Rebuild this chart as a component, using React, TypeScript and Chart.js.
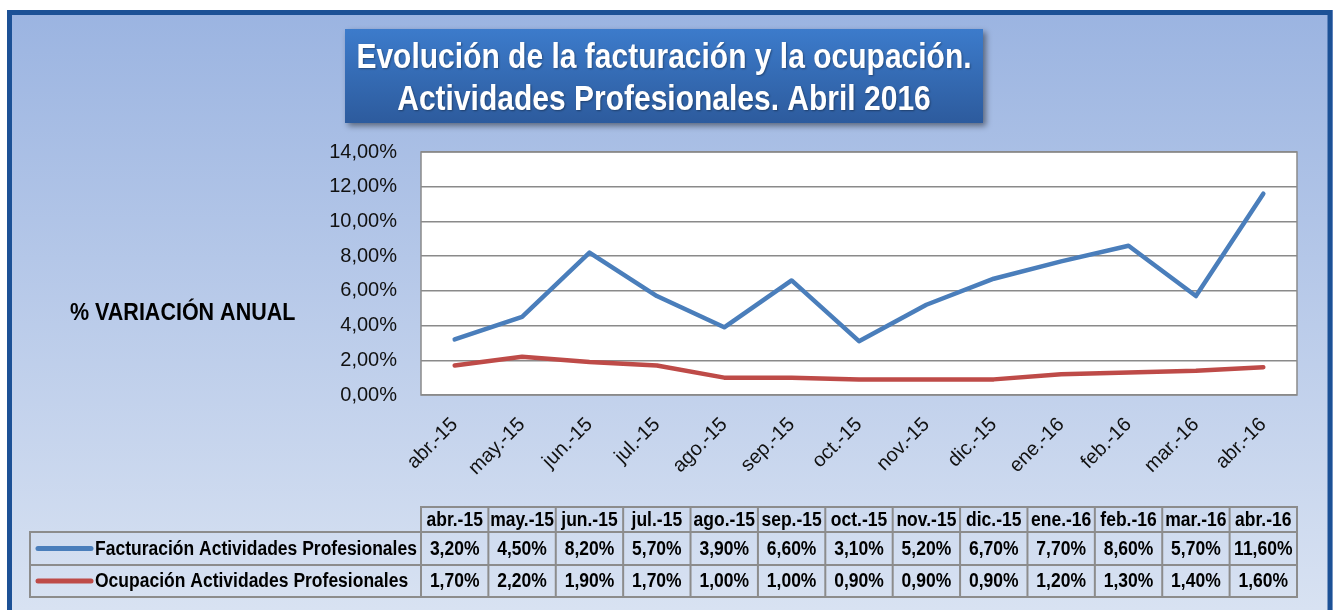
import React, { useEffect, useRef } from 'react';
import { Chart, registerables } from 'chart.js';

Chart.register(...registerables);

const categories = ['abr.-15', 'may.-15', 'jun.-15', 'jul.-15', 'ago.-15', 'sep.-15', 'oct.-15', 'nov.-15', 'dic.-15', 'ene.-16', 'feb.-16', 'mar.-16', 'abr.-16'];
const facturacion = [3.2, 4.5, 8.2, 5.7, 3.9, 6.6, 3.1, 5.2, 6.7, 7.7, 8.6, 5.7, 11.6];
const ocupacion = [1.7, 2.2, 1.9, 1.7, 1.0, 1.0, 0.9, 0.9, 0.9, 1.2, 1.3, 1.4, 1.6];
const seriesNames = ['Facturación Actividades Profesionales', 'Ocupación Actividades Profesionales'];
const seriesColors = ['#4A7EBB', '#BE4B48'];
const yMin = 0;
const yMax = 14;
const yStep = 2;
const titleLines = ['Evolución de la facturación y la ocupación.', 'Actividades Profesionales. Abril 2016'];
const yAxisLabel = '% VARIACIÓN ANUAL';

const FONT = '"Liberation Sans", Arial, sans-serif';
const fmt = (v: number) => v.toFixed(2).replace('.', ',') + '%';

function drawText(ctx: CanvasRenderingContext2D, text: string, x: number, y: number, font: string, color: string, align: CanvasTextAlign, baseline: CanvasTextBaseline, sy = 1.13) {
  ctx.save();
  ctx.translate(x, y);
  ctx.scale(1, sy);
  ctx.font = font;
  ctx.fillStyle = color;
  ctx.textAlign = align;
  ctx.textBaseline = baseline;
  ctx.fillText(text, 0, 0);
  ctx.restore();
}

const framePlugin = {
  id: 'frame',
  beforeDraw(chart: any) {
    const { ctx, width, height, chartArea } = chart;
    ctx.save();
    ctx.fillStyle = '#ffffff';
    ctx.fillRect(0, 0, width, height);
    const g = ctx.createLinearGradient(0, 12, 0, height);
    g.addColorStop(0, '#9BB4E1');
    g.addColorStop(1, '#D8E2F2');
    ctx.fillStyle = g;
    ctx.fillRect(7, 10, width - 7, height - 10);
    ctx.strokeStyle = '#1C5196';
    ctx.lineWidth = 5;
    ctx.strokeRect(9.5, 12.5, 1320.5, height + 30);

    // title box
    const bx = 345, by = 29, bw = 638, bh = 94;
    ctx.save();
    ctx.shadowColor = 'rgba(0,0,0,0.45)';
    ctx.shadowBlur = 6;
    ctx.shadowOffsetX = 3;
    ctx.shadowOffsetY = 3;
    const tg = ctx.createLinearGradient(0, by, 0, by + bh);
    tg.addColorStop(0, '#3C7BCB');
    tg.addColorStop(1, '#2D5B9D');
    ctx.fillStyle = tg;
    ctx.fillRect(bx, by, bw, bh);
    ctx.restore();
    ctx.save();
    ctx.shadowColor = 'rgba(0,0,0,0.35)';
    ctx.shadowBlur = 2;
    ctx.shadowOffsetX = 1;
    ctx.shadowOffsetY = 1;
    drawText(ctx, titleLines[0], bx + bw / 2, 68, 'bold 30px ' + FONT, '#ffffff', 'center', 'alphabetic', 1.15);
    drawText(ctx, titleLines[1], bx + bw / 2, 110, 'bold 30px ' + FONT, '#ffffff', 'center', 'alphabetic', 1.15);
    ctx.restore();

    // side label
    drawText(ctx, yAxisLabel, 70, 313, 'bold 21.5px ' + FONT, '#000000', 'left', 'middle', 1.12);

    // plot area
    ctx.fillStyle = '#ffffff';
    ctx.fillRect(chartArea.left, chartArea.top, chartArea.right - chartArea.left, chartArea.bottom - chartArea.top);
    ctx.restore();
  },
  beforeDatasetsDraw(chart: any) {
    const { ctx, chartArea } = chart;
    ctx.save();
    ctx.strokeStyle = '#8A8A8A';
    ctx.lineWidth = 1.5;
    ctx.strokeRect(chartArea.left, chartArea.top, chartArea.right - chartArea.left, chartArea.bottom - chartArea.top);
    ctx.restore();
  },
  afterDraw(chart: any) {
    const { ctx } = chart;
    const xs = chart.scales.x;
    const step = xs.getPixelForValue(1) - xs.getPixelForValue(0);
    const left = xs.getPixelForValue(0) - step / 2;
    const right = xs.getPixelForValue(categories.length - 1) + step / 2;
    const legendLeft = 30;
    const yH0 = 507, yH1 = 532, yR1 = 565, yR2 = 597;
    ctx.save();
    ctx.strokeStyle = '#8C8C8C';
    ctx.lineWidth = 2;
    // header row
    ctx.strokeRect(left, yH0, right - left, yH1 - yH0);
    // data rows
    ctx.strokeRect(legendLeft, yH1, right - legendLeft, yR2 - yH1);
    ctx.beginPath();
    ctx.moveTo(legendLeft, yR1);
    ctx.lineTo(right, yR1);
    for (let i = 0; i <= categories.length; i++) {
      const x = left + i * step;
      ctx.moveTo(x, yH0);
      ctx.lineTo(x, yR2);
    }
    ctx.stroke();

    const f = 'bold 17.5px ' + FONT;
    categories.forEach((c, i) => {
      const cx = xs.getPixelForValue(i);
      drawText(ctx, c, cx, (yH0 + yH1) / 2 + 1, f, '#000', 'center', 'middle');
      drawText(ctx, fmt(facturacion[i]), cx, (yH1 + yR1) / 2 + 1, f, '#000', 'center', 'middle');
      drawText(ctx, fmt(ocupacion[i]), cx, (yR1 + yR2) / 2 + 1, f, '#000', 'center', 'middle');
    });
    const rowsY = [(yH1 + yR1) / 2, (yR1 + yR2) / 2];
    seriesNames.forEach((n, i) => {
      ctx.strokeStyle = seriesColors[i];
      ctx.lineWidth = 5;
      ctx.lineCap = 'round';
      ctx.beginPath();
      ctx.moveTo(38, rowsY[i]);
      ctx.lineTo(91, rowsY[i]);
      ctx.stroke();
      drawText(ctx, n, 95, rowsY[i] + 1, f, '#000', 'left', 'middle');
    });
    ctx.restore();
  },
};

export default function App() {
  const ref = useRef<HTMLCanvasElement>(null);
  useEffect(() => {
    document.body.style.margin = '0';
    const chart = new Chart(ref.current as HTMLCanvasElement, {
      type: 'line',
      data: {
        labels: categories,
        datasets: [
          { label: seriesNames[0], data: facturacion, borderColor: seriesColors[0], backgroundColor: seriesColors[0], borderWidth: 4.5, pointRadius: 0, tension: 0, borderCapStyle: 'round', borderJoinStyle: 'round' },
          { label: seriesNames[1], data: ocupacion, borderColor: seriesColors[1], backgroundColor: seriesColors[1], borderWidth: 4.5, pointRadius: 0, tension: 0, borderCapStyle: 'round', borderJoinStyle: 'round' },
        ],
      },
      options: {
        animation: false,
        responsive: false,
        devicePixelRatio: 1,
        layout: { padding: { left: 300, top: 152, right: 36, bottom: 0 } },
        plugins: { legend: { display: false }, tooltip: { enabled: false }, title: { display: false } },
        scales: {
          x: {
            offset: true,
            grid: { display: false, drawTicks: false },
            border: { display: false },
            ticks: { autoSkip: false, minRotation: 45, maxRotation: 45, padding: 18, color: '#111', font: { family: FONT, size: 20 } },
            afterFit: (s: any) => { s.height = 215; },
          },
          y: {
            min: yMin,
            max: yMax,
            grid: { color: '#8A8A8A', lineWidth: 1.5, drawTicks: false },
            border: { display: false },
            ticks: { stepSize: yStep, padding: 24, color: '#111', font: { family: FONT, size: 20 }, callback: (v: any) => fmt(Number(v)) },
            afterFit: (s: any) => { s.width = 121; },
          },
        },
      },
      plugins: [framePlugin],
    });
    return () => chart.destroy();
  }, []);
  return <canvas ref={ref} width={1333} height={610} style={{ display: 'block', width: 1333, height: 610 }} />;
}
